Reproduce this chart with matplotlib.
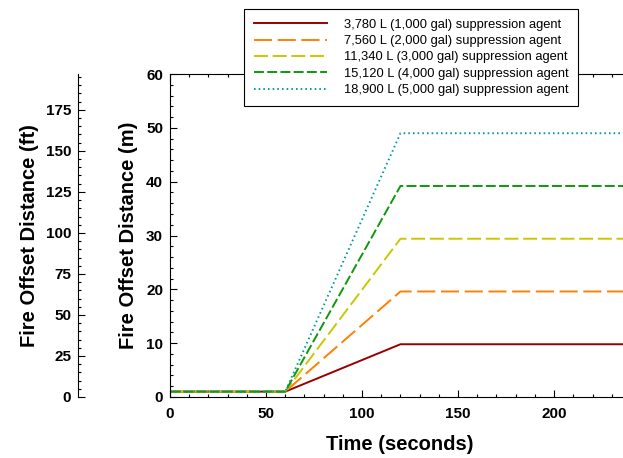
import numpy as np
import matplotlib
matplotlib.use("Agg")
import matplotlib.pyplot as plt
from matplotlib.ticker import MultipleLocator

plt.rcParams['font.family'] = ['Liberation Sans', 'DejaVu Sans']

# time breakpoints (s) and offset distance (m) for each agent volume
time_s = [0, 60, 120, 243]
start_m = 1.0
final_m = [9.8, 19.6, 29.4, 39.2, 49.0]
labels = ['3,780 L (1,000 gal) suppression agent',
          '7,560 L (2,000 gal) suppression agent',
          '11,340 L (3,000 gal) suppression agent',
          '15,120 L (4,000 gal) suppression agent',
          '18,900 L (5,000 gal) suppression agent']
colors = ['#990000', '#ff8000', '#c8c800', '#0c9a0c', '#009999']
dashes = [None, (9.3, 2.9), (7.2, 2.4), (5.1, 1.7), (0.8, 1.6)]

M_TO_FT = 3.28084
ymax = 60

fig = plt.figure(figsize=(6.23, 4.58), dpi=100)
# axes runs a little past the right edge of the image, as in the original
ax = fig.add_axes([0.2729, 0.1332, 0.75, 0.7052])

for fm, lab, c, d in zip(final_m, labels, colors, dashes):
    y = [start_m, start_m, fm, fm]
    line, = ax.plot(time_s, y, color=c, lw=1.4, label=lab)
    if d is not None:
        line.set_dashes(d)

ax.set_xlim(0, 243.3)
ax.set_ylim(0, ymax)
ax.xaxis.set_major_locator(MultipleLocator(50))
ax.xaxis.set_minor_locator(MultipleLocator(10))
ax.yaxis.set_major_locator(MultipleLocator(10))
ax.yaxis.set_minor_locator(MultipleLocator(2))
ax.tick_params(which='both', direction='in', top=True, right=True)
ax.tick_params(which='major', length=5, width=0.8, labelsize=11, pad=5)
ax.tick_params(axis='x', which='major', pad=7)
ax.tick_params(which='minor', length=2.5, width=0.8)
for t in ax.get_xticklabels() + ax.get_yticklabels():
    t.set_fontweight('bold')
ax.set_xlabel('Time (seconds)', fontsize=14.5, fontweight='bold')
ax.xaxis.set_label_coords(0.4925, -0.119)
ax.set_ylabel('Fire Offset Distance (m)', fontsize=14.5, fontweight='bold', labelpad=6)

# secondary axis in feet
ax2 = fig.add_axes([0.1252, 0.1332, 0.0001, 0.7052])
ax2.set_ylim(0, ymax * M_TO_FT)
ax2.patch.set_visible(False)
for s in ['top', 'right', 'bottom']:
    ax2.spines[s].set_visible(False)
ax2.set_xticks([])
ax2.yaxis.set_major_locator(MultipleLocator(25))
ax2.yaxis.set_minor_locator(MultipleLocator(5))
ax2.tick_params(which='both', direction='in')
ax2.tick_params(which='major', length=5, width=0.8, labelsize=11, pad=5)
ax2.tick_params(which='minor', length=2.5, width=0.8)
for t in ax2.get_yticklabels():
    t.set_fontweight('bold')
ax2.set_ylabel('Fire Offset Distance (ft)', fontsize=14.5, fontweight='bold', labelpad=5)

leg = ax.legend(loc='upper left', bbox_to_anchor=(0.392, 0.980),
                bbox_transform=fig.transFigure, fontsize=9.3,
                handlelength=5.65, fancybox=False, framealpha=1,
                edgecolor='black', borderpad=0.75, labelspacing=0.33,
                handletextpad=1.3, borderaxespad=0)
leg.get_frame().set_linewidth(0.8)

fig.savefig('out.png', dpi=100)
